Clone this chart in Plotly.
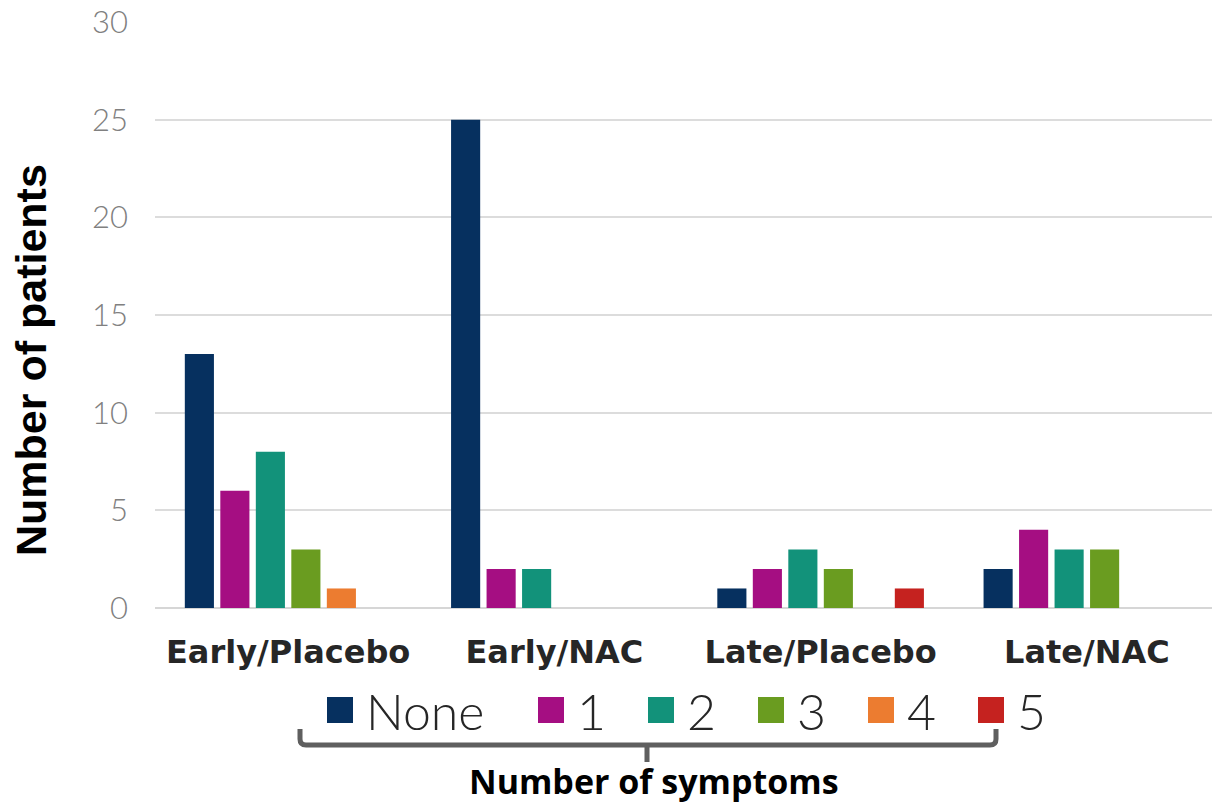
import plotly.graph_objects as go

# ---- data -------------------------------------------------------------
groups = ["Early/Placebo", "Early/NAC", "Late/Placebo", "Late/NAC"]
symptom_levels = ["None", "1", "2", "3", "4", "5"]
counts_none = [13, 25, 1, 2]
counts_1 = [6, 2, 2, 4]
counts_2 = [8, 2, 3, 3]
counts_3 = [3, 0, 2, 3]
counts_4 = [1, 0, 0, 0]
counts_5 = [0, 0, 1, 0]
series = [counts_none, counts_1, counts_2, counts_3, counts_4, counts_5]
y_ticks = [0, 5, 10, 15, 20, 25, 30]

colors = ["#06305f", "#a50e82", "#12927a", "#6a9c20", "#ec7c30", "#c5221f"]

# ---- page geometry ------------------------------------------------------
W, H = 1212, 806
ML, MR, MT, MB = 155, 0, 22, 198
PW, PH = W - ML - MR, H - MT - MB


def px_x(px):
    return (px - ML) / PW


def px_y(py):
    return (H - MB - py) / PH


fig = go.Figure()
for name, vals, col in zip(symptom_levels, series, colors):
    fig.add_trace(go.Bar(
        x=groups, y=vals, name=name,
        marker=dict(color=col, line=dict(width=0)),
        showlegend=False,
    ))

# ---- custom legend (large square swatches) -----------------------------
swatch_left = [327, 538, 648, 758, 868, 978]
sw = 26
sw_top, sw_bottom = 697, 723
shapes = []
annotations = []
for name, col, left in zip(symptom_levels, colors, swatch_left):
    shapes.append(dict(
        type="rect", xref="paper", yref="paper",
        x0=px_x(left), x1=px_x(left + sw),
        y0=px_y(sw_bottom), y1=px_y(sw_top),
        fillcolor=col, line=dict(width=0),
    ))
    annotations.append(dict(
        text=name, xref="paper", yref="paper",
        x=px_x(left + sw + 11), y=px_y(711),
        xanchor="left", yanchor="middle", showarrow=False,
        font=dict(family="Lato", size=50, color="#262626", weight=300),
    ))

# ---- bracket under the legend ------------------------------------------
bx0, bx1, by, btop, stem_x, stem_bot, r = 300, 996, 745, 729, 647, 762, 6
path = (
    f"M{px_x(bx0)},{px_y(btop)} L{px_x(bx0)},{px_y(by - r)} "
    f"Q{px_x(bx0)},{px_y(by)} {px_x(bx0 + r)},{px_y(by)} "
    f"L{px_x(bx1 - r)},{px_y(by)} "
    f"Q{px_x(bx1)},{px_y(by)} {px_x(bx1)},{px_y(by - r)} "
    f"L{px_x(bx1)},{px_y(btop)} "
    f"M{px_x(stem_x)},{px_y(by)} L{px_x(stem_x)},{px_y(stem_bot)}"
)
shapes.append(dict(type="path", xref="paper", yref="paper", path=path,
                   line=dict(color="#5f5f5f", width=5)))

annotations.append(dict(
    text="<b>Number of symptoms</b>", xref="paper", yref="paper",
    x=px_x(654), y=px_y(781), xanchor="center", yanchor="middle",
    showarrow=False,
    font=dict(family="Open Sans", size=34, color="#000000"),
))
annotations.append(dict(
    text="<b>Number of patients</b>", xref="paper", yref="paper",
    x=px_x(31), y=px_y(360), xanchor="center", yanchor="middle",
    textangle=-90, showarrow=False,
    font=dict(family="Liberation Sans", size=43, color="#000000"),
))

fig.update_layout(
    width=W, height=H,
    margin=dict(l=ML, r=MR, t=MT, b=MB, pad=0),
    paper_bgcolor="white", plot_bgcolor="white",
    barmode="group", bargap=0.2, bargroupgap=0.18,
    showlegend=False,
    shapes=shapes, annotations=annotations,
    xaxis=dict(
        range=[-0.5, 3.47], showgrid=False, zeroline=False, showline=False,
        ticks="", ticklabelstandoff=22,
        tickfont=dict(family="DejaVu Sans", size=32, color="#262626", weight="bold"),
    ),
    yaxis=dict(
        range=[0, 30], tickvals=y_ticks, showline=False,
        gridcolor="#dcdcdc", gridwidth=2,
        zeroline=True, zerolinecolor="#d6d6d6", zerolinewidth=2,
        ticks="", ticklabelstandoff=26,
        tickfont=dict(family="Lato", size=31, color="#808080", weight=300),
    ),
)

fig.write_html("out.html")
